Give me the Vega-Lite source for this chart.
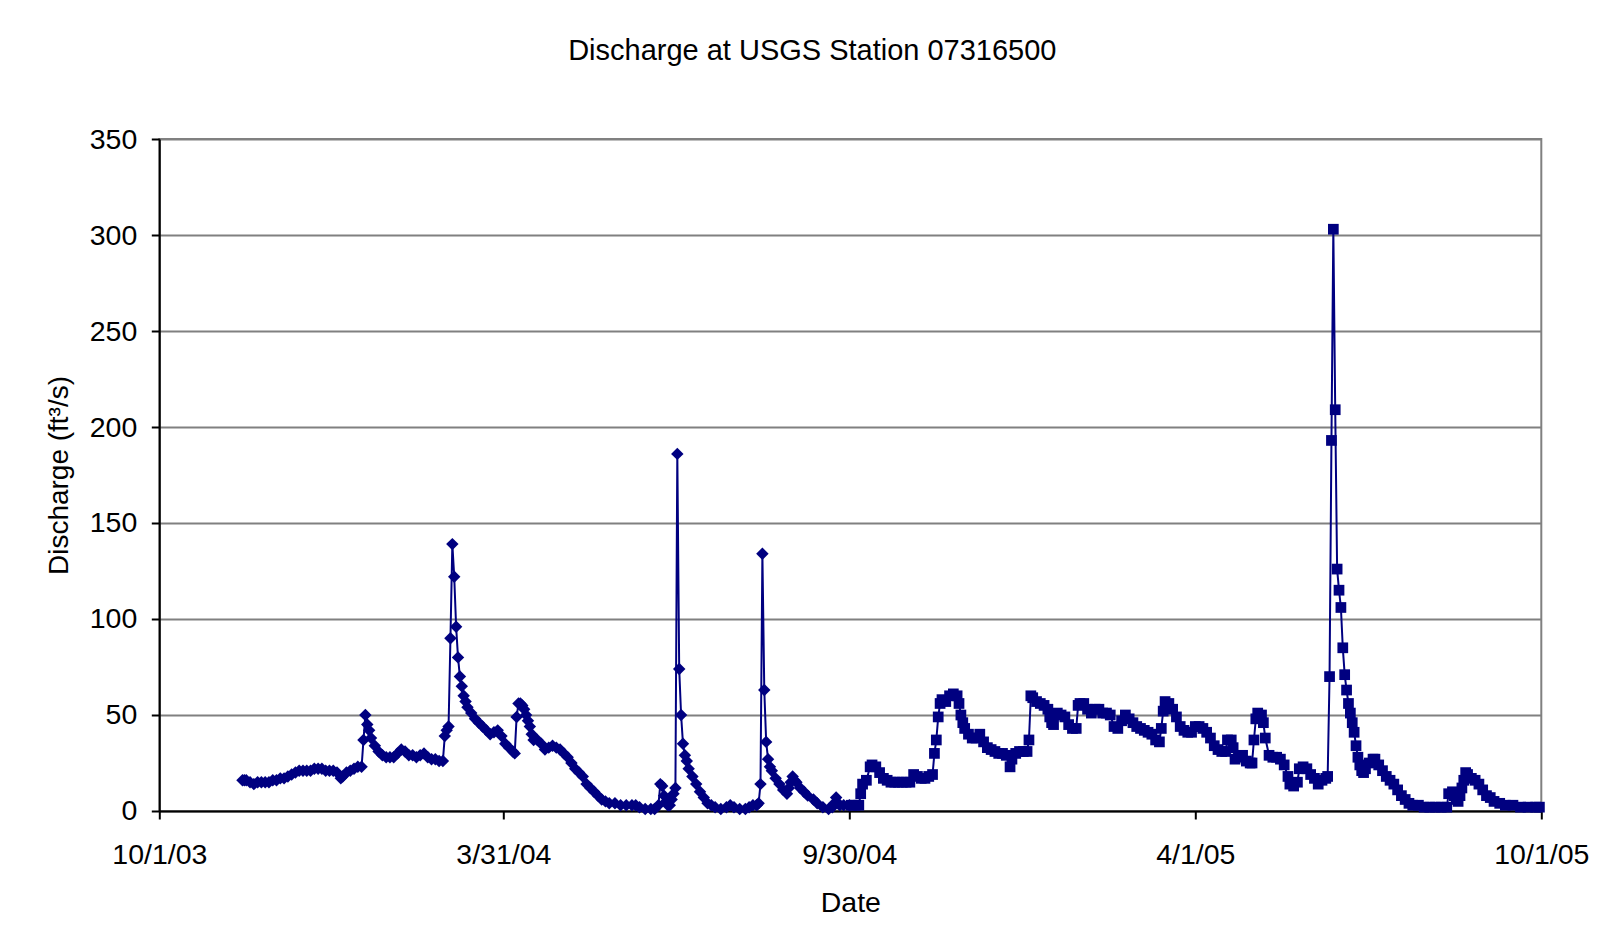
{
"$schema": "https://vega.github.io/schema/vega-lite/v6.json",
"autosize": {"type": "none"},
"width": 1382,
"height": 672,
"padding": {"left": 159.3, "top": 139, "right": 71, "bottom": 134},
"background": "white",
"title": {"text": "Discharge at USGS Station 07316500", "fontSize": 29, "font": "Liberation Sans", "fontWeight": "normal", "color": "#000000", "frame": "group", "anchor": "middle", "dx": -38, "baseline": "alphabetic", "offset": 36},
"data": {"values": [
{"s":"a","d":"2003-11-14","q":16},{"s":"a","d":"2003-11-15","q":16},{"s":"a","d":"2003-11-16","q":16},{"s":"a","d":"2003-11-18","q":15},{"s":"a","d":"2003-11-20","q":14},{"s":"a","d":"2003-11-22","q":15},{"s":"a","d":"2003-11-24","q":15},{"s":"a","d":"2003-11-26","q":15},{"s":"a","d":"2003-11-28","q":15},{"s":"a","d":"2003-11-30","q":16},
{"s":"a","d":"2003-12-02","q":16},{"s":"a","d":"2003-12-04","q":17},{"s":"a","d":"2003-12-06","q":17},{"s":"a","d":"2003-12-08","q":18},{"s":"a","d":"2003-12-10","q":19},{"s":"a","d":"2003-12-12","q":20},{"s":"a","d":"2003-12-14","q":21},{"s":"a","d":"2003-12-16","q":21},{"s":"a","d":"2003-12-18","q":21},{"s":"a","d":"2003-12-20","q":21},{"s":"a","d":"2003-12-22","q":22},{"s":"a","d":"2003-12-24","q":22},{"s":"a","d":"2003-12-26","q":22},{"s":"a","d":"2003-12-28","q":21},{"s":"a","d":"2003-12-30","q":21},
{"s":"a","d":"2004-01-01","q":21},{"s":"a","d":"2004-01-03","q":20},{"s":"a","d":"2004-01-05","q":17},{"s":"a","d":"2004-01-06","q":18},{"s":"a","d":"2004-01-08","q":20},{"s":"a","d":"2004-01-10","q":21},{"s":"a","d":"2004-01-12","q":22},{"s":"a","d":"2004-01-14","q":23},{"s":"a","d":"2004-01-16","q":23},{"s":"a","d":"2004-01-17","q":37},{"s":"a","d":"2004-01-18","q":50},{"s":"a","d":"2004-01-19","q":45},{"s":"a","d":"2004-01-20","q":42},{"s":"a","d":"2004-01-21","q":38},{"s":"a","d":"2004-01-23","q":34},{"s":"a","d":"2004-01-25","q":31},{"s":"a","d":"2004-01-27","q":29},{"s":"a","d":"2004-01-29","q":28},{"s":"a","d":"2004-01-31","q":28},
{"s":"a","d":"2004-02-02","q":28},{"s":"a","d":"2004-02-04","q":30},{"s":"a","d":"2004-02-06","q":32},{"s":"a","d":"2004-02-08","q":31},{"s":"a","d":"2004-02-10","q":29},{"s":"a","d":"2004-02-12","q":29},{"s":"a","d":"2004-02-14","q":28},{"s":"a","d":"2004-02-16","q":29},{"s":"a","d":"2004-02-18","q":30},{"s":"a","d":"2004-02-20","q":28},{"s":"a","d":"2004-02-22","q":27},{"s":"a","d":"2004-02-24","q":27},{"s":"a","d":"2004-02-26","q":26},{"s":"a","d":"2004-02-28","q":26},{"s":"a","d":"2004-02-29","q":39},
{"s":"a","d":"2004-03-01","q":42},{"s":"a","d":"2004-03-02","q":44},{"s":"a","d":"2004-03-03","q":90},{"s":"a","d":"2004-03-04","q":139},{"s":"a","d":"2004-03-05","q":122},{"s":"a","d":"2004-03-06","q":96},{"s":"a","d":"2004-03-07","q":80},{"s":"a","d":"2004-03-08","q":70},{"s":"a","d":"2004-03-09","q":65},{"s":"a","d":"2004-03-10","q":60},{"s":"a","d":"2004-03-11","q":57},{"s":"a","d":"2004-03-12","q":54},{"s":"a","d":"2004-03-14","q":51},{"s":"a","d":"2004-03-16","q":48},{"s":"a","d":"2004-03-18","q":46},{"s":"a","d":"2004-03-20","q":44},{"s":"a","d":"2004-03-22","q":42},{"s":"a","d":"2004-03-24","q":40},{"s":"a","d":"2004-03-26","q":41},{"s":"a","d":"2004-03-28","q":42},{"s":"a","d":"2004-03-30","q":39},
{"s":"a","d":"2004-04-01","q":35},{"s":"a","d":"2004-04-03","q":33},{"s":"a","d":"2004-04-05","q":31},{"s":"a","d":"2004-04-06","q":30},{"s":"a","d":"2004-04-07","q":49},{"s":"a","d":"2004-04-08","q":56},{"s":"a","d":"2004-04-09","q":56},{"s":"a","d":"2004-04-10","q":55},{"s":"a","d":"2004-04-11","q":53},{"s":"a","d":"2004-04-12","q":50},{"s":"a","d":"2004-04-13","q":47},{"s":"a","d":"2004-04-14","q":44},{"s":"a","d":"2004-04-15","q":40},{"s":"a","d":"2004-04-16","q":37},{"s":"a","d":"2004-04-18","q":37},{"s":"a","d":"2004-04-20","q":35},{"s":"a","d":"2004-04-22","q":32},{"s":"a","d":"2004-04-24","q":33},{"s":"a","d":"2004-04-26","q":34},{"s":"a","d":"2004-04-28","q":33},{"s":"a","d":"2004-04-30","q":32},
{"s":"a","d":"2004-05-02","q":30},{"s":"a","d":"2004-05-04","q":28},{"s":"a","d":"2004-05-06","q":25},{"s":"a","d":"2004-05-08","q":22},{"s":"a","d":"2004-05-10","q":20},{"s":"a","d":"2004-05-12","q":18},{"s":"a","d":"2004-05-14","q":14},{"s":"a","d":"2004-05-16","q":12},{"s":"a","d":"2004-05-18","q":10},{"s":"a","d":"2004-05-20","q":8},{"s":"a","d":"2004-05-22","q":6},{"s":"a","d":"2004-05-24","q":5},{"s":"a","d":"2004-05-26","q":4},{"s":"a","d":"2004-05-29","q":4},
{"s":"a","d":"2004-06-01","q":3},{"s":"a","d":"2004-06-04","q":3},{"s":"a","d":"2004-06-07","q":3},{"s":"a","d":"2004-06-09","q":3},{"s":"a","d":"2004-06-11","q":2},{"s":"a","d":"2004-06-14","q":1},{"s":"a","d":"2004-06-17","q":1},{"s":"a","d":"2004-06-19","q":1},{"s":"a","d":"2004-06-21","q":3},{"s":"a","d":"2004-06-22","q":14},{"s":"a","d":"2004-06-23","q":13},{"s":"a","d":"2004-06-24","q":8},{"s":"a","d":"2004-06-25","q":5},{"s":"a","d":"2004-06-26","q":3},{"s":"a","d":"2004-06-27","q":3},{"s":"a","d":"2004-06-28","q":6},{"s":"a","d":"2004-06-29","q":9},{"s":"a","d":"2004-06-30","q":12},
{"s":"a","d":"2004-07-01","q":186},{"s":"a","d":"2004-07-02","q":74},{"s":"a","d":"2004-07-03","q":50},{"s":"a","d":"2004-07-04","q":35},{"s":"a","d":"2004-07-05","q":29},{"s":"a","d":"2004-07-06","q":26},{"s":"a","d":"2004-07-07","q":22},{"s":"a","d":"2004-07-09","q":18},{"s":"a","d":"2004-07-11","q":14},{"s":"a","d":"2004-07-13","q":10},{"s":"a","d":"2004-07-15","q":7},{"s":"a","d":"2004-07-17","q":4},{"s":"a","d":"2004-07-19","q":3},{"s":"a","d":"2004-07-21","q":2},{"s":"a","d":"2004-07-24","q":1},{"s":"a","d":"2004-07-27","q":2},{"s":"a","d":"2004-07-29","q":3},{"s":"a","d":"2004-07-31","q":2},
{"s":"a","d":"2004-08-03","q":1},{"s":"a","d":"2004-08-06","q":1},{"s":"a","d":"2004-08-08","q":2},{"s":"a","d":"2004-08-10","q":3},{"s":"a","d":"2004-08-12","q":3},{"s":"a","d":"2004-08-13","q":4},{"s":"a","d":"2004-08-14","q":14},{"s":"a","d":"2004-08-15","q":134},{"s":"a","d":"2004-08-16","q":63},{"s":"a","d":"2004-08-17","q":36},{"s":"a","d":"2004-08-18","q":27},{"s":"a","d":"2004-08-19","q":23},{"s":"a","d":"2004-08-20","q":21},{"s":"a","d":"2004-08-22","q":17},{"s":"a","d":"2004-08-24","q":14},{"s":"a","d":"2004-08-26","q":11},{"s":"a","d":"2004-08-28","q":9},{"s":"a","d":"2004-08-29","q":12},{"s":"a","d":"2004-08-30","q":15},{"s":"a","d":"2004-08-31","q":18},
{"s":"a","d":"2004-09-01","q":16},{"s":"a","d":"2004-09-02","q":15},{"s":"a","d":"2004-09-04","q":12},{"s":"a","d":"2004-09-06","q":10},{"s":"a","d":"2004-09-08","q":8},{"s":"a","d":"2004-09-11","q":6},{"s":"a","d":"2004-09-13","q":4},{"s":"a","d":"2004-09-16","q":2},{"s":"a","d":"2004-09-19","q":1},{"s":"a","d":"2004-09-21","q":2},{"s":"a","d":"2004-09-22","q":4},{"s":"a","d":"2004-09-23","q":7},{"s":"a","d":"2004-09-24","q":4},{"s":"a","d":"2004-09-25","q":3},{"s":"a","d":"2004-09-27","q":3},{"s":"a","d":"2004-09-30","q":3},
{"s":"b","d":"2004-10-01","q":3},{"s":"b","d":"2004-10-03","q":3},{"s":"b","d":"2004-10-05","q":3},{"s":"b","d":"2004-10-06","q":9},{"s":"b","d":"2004-10-07","q":14},{"s":"b","d":"2004-10-09","q":16},{"s":"b","d":"2004-10-11","q":23},{"s":"b","d":"2004-10-12","q":24},{"s":"b","d":"2004-10-14","q":23},{"s":"b","d":"2004-10-16","q":20},{"s":"b","d":"2004-10-18","q":17},{"s":"b","d":"2004-10-20","q":16},{"s":"b","d":"2004-10-22","q":15},{"s":"b","d":"2004-10-24","q":15},{"s":"b","d":"2004-10-26","q":15},{"s":"b","d":"2004-10-28","q":15},{"s":"b","d":"2004-10-30","q":15},
{"s":"b","d":"2004-11-01","q":15},{"s":"b","d":"2004-11-03","q":19},{"s":"b","d":"2004-11-05","q":18},{"s":"b","d":"2004-11-07","q":17},{"s":"b","d":"2004-11-09","q":17},{"s":"b","d":"2004-11-11","q":18},{"s":"b","d":"2004-11-13","q":19},{"s":"b","d":"2004-11-14","q":30},{"s":"b","d":"2004-11-15","q":37},{"s":"b","d":"2004-11-16","q":49},{"s":"b","d":"2004-11-17","q":56},{"s":"b","d":"2004-11-18","q":58},{"s":"b","d":"2004-11-20","q":57},{"s":"b","d":"2004-11-22","q":60},{"s":"b","d":"2004-11-24","q":61},{"s":"b","d":"2004-11-26","q":60},{"s":"b","d":"2004-11-27","q":56},{"s":"b","d":"2004-11-28","q":50},{"s":"b","d":"2004-11-29","q":46},{"s":"b","d":"2004-11-30","q":43},
{"s":"b","d":"2004-12-02","q":40},{"s":"b","d":"2004-12-04","q":38},{"s":"b","d":"2004-12-06","q":38},{"s":"b","d":"2004-12-08","q":40},{"s":"b","d":"2004-12-10","q":36},{"s":"b","d":"2004-12-12","q":33},{"s":"b","d":"2004-12-14","q":32},{"s":"b","d":"2004-12-16","q":31},{"s":"b","d":"2004-12-18","q":30},{"s":"b","d":"2004-12-20","q":30},{"s":"b","d":"2004-12-22","q":29},{"s":"b","d":"2004-12-24","q":23},{"s":"b","d":"2004-12-25","q":27},{"s":"b","d":"2004-12-27","q":30},{"s":"b","d":"2004-12-29","q":31},{"s":"b","d":"2004-12-31","q":31},
{"s":"b","d":"2005-01-02","q":31},{"s":"b","d":"2005-01-03","q":37},{"s":"b","d":"2005-01-04","q":60},{"s":"b","d":"2005-01-05","q":59},{"s":"b","d":"2005-01-07","q":57},{"s":"b","d":"2005-01-09","q":56},{"s":"b","d":"2005-01-11","q":55},{"s":"b","d":"2005-01-13","q":53},{"s":"b","d":"2005-01-14","q":49},{"s":"b","d":"2005-01-15","q":46},{"s":"b","d":"2005-01-16","q":45},{"s":"b","d":"2005-01-18","q":51},{"s":"b","d":"2005-01-20","q":50},{"s":"b","d":"2005-01-22","q":49},{"s":"b","d":"2005-01-24","q":45},{"s":"b","d":"2005-01-26","q":43},{"s":"b","d":"2005-01-28","q":43},{"s":"b","d":"2005-01-29","q":55},{"s":"b","d":"2005-01-30","q":56},
{"s":"b","d":"2005-02-01","q":56},{"s":"b","d":"2005-02-03","q":53},{"s":"b","d":"2005-02-05","q":51},{"s":"b","d":"2005-02-07","q":53},{"s":"b","d":"2005-02-09","q":53},{"s":"b","d":"2005-02-11","q":51},{"s":"b","d":"2005-02-13","q":51},{"s":"b","d":"2005-02-15","q":50},{"s":"b","d":"2005-02-17","q":44},{"s":"b","d":"2005-02-19","q":43},{"s":"b","d":"2005-02-21","q":47},{"s":"b","d":"2005-02-23","q":50},{"s":"b","d":"2005-02-25","q":48},{"s":"b","d":"2005-02-27","q":46},
{"s":"b","d":"2005-03-01","q":44},{"s":"b","d":"2005-03-03","q":43},{"s":"b","d":"2005-03-05","q":42},{"s":"b","d":"2005-03-07","q":41},{"s":"b","d":"2005-03-09","q":40},{"s":"b","d":"2005-03-11","q":37},{"s":"b","d":"2005-03-13","q":36},{"s":"b","d":"2005-03-14","q":43},{"s":"b","d":"2005-03-15","q":52},{"s":"b","d":"2005-03-16","q":57},{"s":"b","d":"2005-03-18","q":56},{"s":"b","d":"2005-03-20","q":53},{"s":"b","d":"2005-03-22","q":49},{"s":"b","d":"2005-03-24","q":44},{"s":"b","d":"2005-03-26","q":42},{"s":"b","d":"2005-03-28","q":41},{"s":"b","d":"2005-03-30","q":41},
{"s":"b","d":"2005-04-01","q":44},{"s":"b","d":"2005-04-03","q":44},{"s":"b","d":"2005-04-05","q":43},{"s":"b","d":"2005-04-07","q":41},{"s":"b","d":"2005-04-09","q":38},{"s":"b","d":"2005-04-11","q":34},{"s":"b","d":"2005-04-13","q":32},{"s":"b","d":"2005-04-15","q":31},{"s":"b","d":"2005-04-17","q":31},{"s":"b","d":"2005-04-18","q":37},{"s":"b","d":"2005-04-20","q":37},{"s":"b","d":"2005-04-21","q":33},{"s":"b","d":"2005-04-22","q":27},{"s":"b","d":"2005-04-24","q":28},{"s":"b","d":"2005-04-26","q":29},{"s":"b","d":"2005-04-28","q":26},{"s":"b","d":"2005-04-30","q":25},
{"s":"b","d":"2005-05-01","q":25},{"s":"b","d":"2005-05-02","q":37},{"s":"b","d":"2005-05-03","q":48},{"s":"b","d":"2005-05-04","q":51},{"s":"b","d":"2005-05-06","q":50},{"s":"b","d":"2005-05-07","q":46},{"s":"b","d":"2005-05-08","q":38},{"s":"b","d":"2005-05-10","q":29},{"s":"b","d":"2005-05-12","q":28},{"s":"b","d":"2005-05-14","q":28},{"s":"b","d":"2005-05-16","q":27},{"s":"b","d":"2005-05-18","q":24},{"s":"b","d":"2005-05-20","q":18},{"s":"b","d":"2005-05-21","q":14},{"s":"b","d":"2005-05-23","q":13},{"s":"b","d":"2005-05-25","q":15},{"s":"b","d":"2005-05-26","q":22},{"s":"b","d":"2005-05-28","q":23},{"s":"b","d":"2005-05-30","q":22},
{"s":"b","d":"2005-06-01","q":19},{"s":"b","d":"2005-06-03","q":17},{"s":"b","d":"2005-06-05","q":14},{"s":"b","d":"2005-06-07","q":16},{"s":"b","d":"2005-06-09","q":17},{"s":"b","d":"2005-06-10","q":18},{"s":"b","d":"2005-06-11","q":70},{"s":"b","d":"2005-06-12","q":193},{"s":"b","d":"2005-06-13","q":303},{"s":"b","d":"2005-06-14","q":209},{"s":"b","d":"2005-06-15","q":126},{"s":"b","d":"2005-06-16","q":115},{"s":"b","d":"2005-06-17","q":106},{"s":"b","d":"2005-06-18","q":85},{"s":"b","d":"2005-06-19","q":71},{"s":"b","d":"2005-06-20","q":63},{"s":"b","d":"2005-06-21","q":56},{"s":"b","d":"2005-06-22","q":51},{"s":"b","d":"2005-06-23","q":46},{"s":"b","d":"2005-06-24","q":41},{"s":"b","d":"2005-06-25","q":34},{"s":"b","d":"2005-06-26","q":28},{"s":"b","d":"2005-06-27","q":24},{"s":"b","d":"2005-06-28","q":21},{"s":"b","d":"2005-06-29","q":20},{"s":"b","d":"2005-06-30","q":22},
{"s":"b","d":"2005-07-02","q":25},{"s":"b","d":"2005-07-04","q":27},{"s":"b","d":"2005-07-05","q":27},{"s":"b","d":"2005-07-07","q":24},{"s":"b","d":"2005-07-09","q":21},{"s":"b","d":"2005-07-11","q":18},{"s":"b","d":"2005-07-13","q":16},{"s":"b","d":"2005-07-15","q":14},{"s":"b","d":"2005-07-17","q":11},{"s":"b","d":"2005-07-19","q":8},{"s":"b","d":"2005-07-21","q":6},{"s":"b","d":"2005-07-23","q":4},{"s":"b","d":"2005-07-25","q":3},{"s":"b","d":"2005-07-28","q":3},{"s":"b","d":"2005-07-31","q":2},
{"s":"b","d":"2005-08-03","q":2},{"s":"b","d":"2005-08-06","q":2},{"s":"b","d":"2005-08-09","q":2},{"s":"b","d":"2005-08-12","q":2},{"s":"b","d":"2005-08-13","q":9},{"s":"b","d":"2005-08-15","q":10},{"s":"b","d":"2005-08-16","q":8},{"s":"b","d":"2005-08-17","q":6},{"s":"b","d":"2005-08-18","q":5},{"s":"b","d":"2005-08-19","q":8},{"s":"b","d":"2005-08-20","q":12},{"s":"b","d":"2005-08-21","q":16},{"s":"b","d":"2005-08-22","q":20},{"s":"b","d":"2005-08-23","q":19},{"s":"b","d":"2005-08-25","q":17},{"s":"b","d":"2005-08-27","q":16},{"s":"b","d":"2005-08-29","q":14},{"s":"b","d":"2005-08-31","q":11},
{"s":"b","d":"2005-09-02","q":8},{"s":"b","d":"2005-09-04","q":7},{"s":"b","d":"2005-09-06","q":5},{"s":"b","d":"2005-09-09","q":4},{"s":"b","d":"2005-09-12","q":3},{"s":"b","d":"2005-09-16","q":3},{"s":"b","d":"2005-09-20","q":2},{"s":"b","d":"2005-09-24","q":2},{"s":"b","d":"2005-09-28","q":2},{"s":"b","d":"2005-09-30","q":2}
]},
"encoding": {
  "x": {"field": "d", "type": "temporal",
    "scale": {"type": "utc", "domain": [{"year": 2003, "month": 10, "date": 1, "utc": true}, {"year": 2005, "month": 10, "date": 1, "utc": true}]},
    "axis": {"values": [{"year": 2003, "month": 10, "date": 1, "utc": true}, {"year": 2004, "month": 3, "date": 31, "utc": true}, {"year": 2004, "month": 9, "date": 30, "utc": true}, {"year": 2005, "month": 4, "date": 1, "utc": true}, {"year": 2005, "month": 10, "date": 1, "utc": true}],
      "labelExpr": "utcFormat(datum.value, '%-m/%-d/%y')", "grid": false, "title": "Date",
      "labelFontSize": 28.5, "labelColor": "#000000", "labelFont": "Liberation Sans", "labelPadding": 22, "labelFlush": false, "labelOverlap": false,
      "tickSize": 8, "tickColor": "#000000", "tickWidth": 2, "domainColor": "#000000", "domainWidth": 2,
      "titleFontSize": 28.5, "titleFont": "Liberation Sans", "titleFontWeight": "normal", "titleColor": "#000000", "titlePadding": 19}},
  "y": {"field": "q", "type": "quantitative",
    "scale": {"domain": [0, 350], "nice": false},
    "axis": {"values": [0, 50, 100, 150, 200, 250, 300, 350], "title": "Discharge (ft³/s)",
      "labelFontSize": 28.5, "labelColor": "#000000", "labelFont": "Liberation Sans", "labelPadding": 14.5, "labelOverlap": false, "labelFlush": false,
      "tickSize": 8, "tickColor": "#000000", "tickWidth": 2, "domainColor": "#000000", "domainWidth": 2,
      "grid": true, "gridColor": "#808080", "gridWidth": 2,
      "titleFontSize": 28, "titleFont": "Liberation Sans", "titleFontWeight": "normal", "titleColor": "#000000", "titlePadding": 16}}
},
"layer": [
  {"mark": {"type": "line", "color": "#000080", "strokeWidth": 2}, "encoding": {"detail": {"field": "s", "type": "nominal"}}},
  {"transform": [{"filter": {"field": "s", "equal": "a"}}], "mark": {"type": "point", "shape": "diamond", "filled": true, "opacity": 1, "color": "#000080", "size": 155, "strokeWidth": 0}},
  {"transform": [{"filter": {"field": "s", "equal": "b"}}], "mark": {"type": "point", "shape": "square", "filled": true, "opacity": 1, "color": "#000080", "size": 115, "strokeWidth": 0}}
],
"config": {"view": {"stroke": "#808080", "strokeWidth": 2}, "font": "Liberation Sans"}
}
